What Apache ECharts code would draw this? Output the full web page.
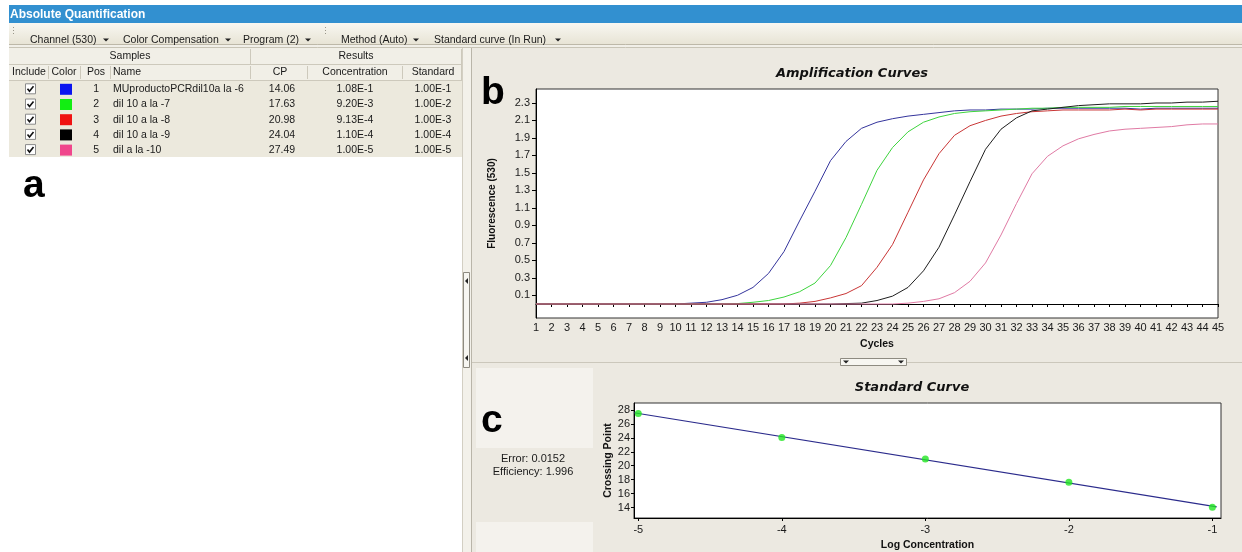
<!DOCTYPE html>
<html>
<head>
<meta charset="utf-8">
<title>Absolute Quantification</title>
<style>
  html, body { margin: 0; padding: 0; background: #ffffff; }
  #main { width: 1242px; height: 552px; }
</style>
</head>
<body>
<div id="main"></div>
<script src="https://cdn.jsdelivr.net/npm/echarts@6/dist/echarts.min.js"></script>
<script type="text/javascript">
    // amplification curves, fluorescence (530) per cycle
    var cycles = [1, 2, 3, 4, 5, 6, 7, 8, 9, 10, 11, 12, 13, 14, 15, 16, 17, 18, 19, 20,
        21, 22, 23, 24, 25, 26, 27, 28, 29, 30, 31, 32, 33, 34, 35, 36, 37, 38, 39, 40, 41, 42, 43, 44, 45];
    var fluorBlue = [0, 0, 0, 0, 0, 0, 0, 0, 0, 0, 0.01, 0.02, 0.05, 0.10, 0.19, 0.35, 0.60, 0.95, 1.29, 1.64,
        1.86, 2.01, 2.08, 2.12, 2.15, 2.17, 2.19, 2.21, 2.22, 2.22, 2.23, 2.23, 2.23, 2.24, 2.24,
        2.24, 2.24, 2.24, 2.24, 2.23, 2.24, 2.24, 2.24, 2.24, 2.24];
    var fluorGreen = [0, 0, 0, 0, 0, 0, 0, 0, 0, 0, 0, 0, 0, 0.005, 0.02, 0.04, 0.08, 0.14, 0.24, 0.44,
        0.76, 1.14, 1.53, 1.79, 1.97, 2.08, 2.14, 2.18, 2.20, 2.21, 2.22, 2.23, 2.24, 2.24, 2.25,
        2.25, 2.25, 2.25, 2.26, 2.26, 2.26, 2.26, 2.26, 2.26, 2.26];
    var fluorRed = [0, 0, 0, 0, 0, 0, 0, 0, 0, 0, 0, 0, 0, 0, 0, 0, 0, 0.01, 0.03, 0.07,
        0.12, 0.21, 0.42, 0.68, 1.05, 1.42, 1.72, 1.93, 2.04, 2.10, 2.15, 2.18, 2.20, 2.21, 2.22,
        2.22, 2.22, 2.22, 2.23, 2.22, 2.23, 2.23, 2.23, 2.23, 2.23];
    var fluorBlack = [0, 0, 0, 0, 0, 0, 0, 0, 0, 0, 0, 0, 0, 0, 0, 0, 0, 0, 0, 0,
        0.005, 0.01, 0.04, 0.09, 0.19, 0.38, 0.65, 1.02, 1.40, 1.77, 2.00, 2.13, 2.21, 2.23, 2.25,
        2.27, 2.28, 2.29, 2.29, 2.29, 2.30, 2.30, 2.31, 2.31, 2.32];
    var fluorPink = [0, 0, 0, 0, 0, 0, 0, 0, 0, 0, 0, 0, 0, 0, 0, 0, 0, 0, 0, 0,
        0, 0, 0, 0, 0.01, 0.03, 0.06, 0.13, 0.26, 0.47, 0.79, 1.15, 1.49, 1.69, 1.81,
        1.89, 1.94, 1.98, 2.00, 2.01, 2.02, 2.03, 2.05, 2.06, 2.06];
    var ampYTicks = [0.1, 0.3, 0.5, 0.7, 0.9, 1.1, 1.3, 1.5, 1.7, 1.9, 2.1, 2.3];

    // samples table
    var samplePos = [1, 2, 3, 4, 5];
    var sampleNames = ['MUproductoPCRdil10a la -6', 'dil 10 a la -7', 'dil 10 a la -8', 'dil 10 a la -9', 'dil a la -10'];
    var sampleCP = [14.06, 17.63, 20.98, 24.04, 27.49];
    var sampleConc = ['1.08E-1', '9.20E-3', '9.13E-4', '1.10E-4', '1.00E-5'];
    var sampleStd = ['1.00E-1', '1.00E-2', '1.00E-3', '1.00E-4', '1.00E-5'];
    var swatchColors = ['#0a14f0', '#12ee12', '#f01212', '#000000', '#f0468c'];
    var lineColors = ['#34349c', '#3ed43e', '#c93636', '#1e1e1e', '#e07aa4'];

    // standard curve
    var logConc = [-1, -2, -3, -4, -5];
    var stdXTicks = [-5, -4, -3, -2, -1];
    var stdYTicks = [14, 16, 18, 20, 22, 24, 26, 28];
    var fitLogConc = [-5.03, -0.97];
    var fitCP = [27.6, 14.1];
    var fitError = '0.0152';
    var fitEfficiency = '1.996';

    var UI = '"Liberation Sans", Arial, sans-serif';

    function rect(x, y, w, h, fill, stroke, z) {
        return { type: 'rect', silent: true, z: z || -5, shape: { x: x, y: y, width: w, height: h },
            style: { fill: fill, stroke: stroke || null, lineWidth: 1 } };
    }
    function line(x1, y1, x2, y2, stroke, dash) {
        return { type: 'line', silent: true, z: -4, shape: { x1: x1, y1: y1, x2: x2, y2: y2 },
            style: { stroke: stroke, lineWidth: 1, lineDash: dash || null } };
    }
    function text(x, y, t, font, fill, align, z) {
        return { type: 'text', silent: true, z: z || 5, x: x, y: y,
            style: { text: t, font: font, fill: fill || '#1a1a1a', textAlign: align || 'left',
                textVerticalAlign: 'middle', verticalAlign: 'middle' } };
    }
    function tri(cx, cy, down) {
        var pts = down ? [[cx - 3, cy - 1.5], [cx + 3, cy - 1.5], [cx, cy + 1.5]]
                       : [[cx + 2, cy - 3], [cx + 2, cy + 3], [cx - 1, cy]];
        return { type: 'polygon', silent: true, z: 6, shape: { points: pts }, style: { fill: '#222' } };
    }

    var g = [];
    // title bar and toolbar
    g.push(rect(9, 5, 1233, 18, '#3290d0'));
    g.push(text(10, 14.5, 'Absolute Quantification', 'bold 12px ' + UI, '#ffffff'));
    g.push({ type: 'rect', silent: true, z: -5, shape: { x: 9, y: 23, width: 1233, height: 22 },
        style: { fill: { type: 'linear', x: 0, y: 0, x2: 0, y2: 1,
            colorStops: [{ offset: 0, color: '#f8f7f1' }, { offset: 1, color: '#e7e3d4' }] } } });
    g.push(line(9, 44.5, 1242, 44.5, '#bdb8a8'));
    g.push(rect(9, 45, 1233, 3, '#f1efe8'));
    g.push(line(9, 47.5, 1242, 47.5, '#c8c4b6'));
    g.push(line(13.5, 27, 13.5, 36, '#9a968a', [1, 2]));
    g.push(line(325.5, 27, 325.5, 36, '#9a968a', [1, 2]));
    var tbItems = [['Channel (530)', 30, 106], ['Color Compensation', 123, 228], ['Program (2)', 243, 308],
        ['Method (Auto)', 341, 416], ['Standard curve (In Run)', 434, 558]];
    tbItems.forEach(function (it) {
        g.push(text(it[1], 40, it[0], '10.5px ' + UI));
        g.push(tri(it[2], 40, true));
    });

    // samples table
    g.push(rect(9, 48, 453, 109, '#ece9dd'));
    g.push(rect(9, 48, 453, 16, '#f1efe7'));
    g.push(rect(9, 65, 453, 15, '#f1efe7'));
    g.push(line(9, 64.5, 462, 64.5, '#cdc9bc'));
    g.push(line(9, 80.5, 462, 80.5, '#cdc9bc'));
    g.push(line(250.5, 49, 250.5, 64, '#cdc9bc'));
    g.push(line(461.5, 49, 461.5, 80, '#cdc9bc'));
    [48, 80, 110, 250, 307, 402].forEach(function (sx) {
        g.push(line(sx + 0.5, 66, sx + 0.5, 79, '#cdc9bc'));
    });
    g.push(text(130, 56.5, 'Samples', '10.5px ' + UI, '#1a1a1a', 'center'));
    g.push(text(356, 56.5, 'Results', '10.5px ' + UI, '#1a1a1a', 'center'));
    var colHeads = [['Include', 29, 'center'], ['Color', 64, 'center'], ['Pos', 96, 'center'], ['Name', 113, 'left'],
        ['CP', 280, 'center'], ['Concentration', 355, 'center'], ['Standard', 433, 'center']];
    colHeads.forEach(function (c) { g.push(text(c[1], 72.5, c[0], '10.5px ' + UI, '#1a1a1a', c[2])); });

    var rowY0 = 89.3, rowH = 15.2;
    samplePos.forEach(function (p, i) {
        var y = rowY0 + i * rowH;
        g.push(rect(25.5, y - 5.5, 10, 10, '#ffffff', '#8a8a8a', 4));
        g.push({ type: 'polyline', silent: true, z: 6, shape: { points: [[27.5, y - 0.5], [29.5, y + 2], [33.5, y - 3]] },
            style: { stroke: '#111', lineWidth: 1.6, fill: null } });
        g.push(rect(60, y - 5.5, 12, 11, swatchColors[i], null, 4));
        g.push(text(99, y, String(p), '10.5px ' + UI, '#1a1a1a', 'right'));
        g.push(text(113, y, sampleNames[i], '10.5px ' + UI));
        g.push(text(282, y, sampleCP[i].toFixed(2), '10.5px ' + UI, '#1a1a1a', 'center'));
        g.push(text(355, y, sampleConc[i], '10.5px ' + UI, '#1a1a1a', 'center'));
        g.push(text(433, y, sampleStd[i], '10.5px ' + UI, '#1a1a1a', 'center'));
    });

    // right panel, splitters
    g.push(rect(472, 48, 770, 504, '#ece9e1'));
    g.push(rect(462, 48, 10, 504, '#f3f1ea'));
    g.push(line(462.5, 48, 462.5, 552, '#d3cfc3'));
    g.push(line(471.5, 48, 471.5, 552, '#b9b5a9'));
    g.push(rect(463.5, 272.5, 6, 95, '#f7f6f1', '#8e8b81', 4));
    g.push(line(466.5, 286, 466.5, 354, '#555', [1, 2]));
    g.push(tri(466, 281, false));
    g.push(tri(466, 358, false));
    g.push(line(472, 362.5, 1242, 362.5, '#cbc7bb'));
    g.push(rect(840.5, 358.5, 66, 7, '#f7f6f1', '#8e8b81', 4));
    g.push(line(851, 362.5, 897, 362.5, '#555', [1, 2]));
    g.push(tri(846, 362, true));
    g.push(tri(901, 362, true));
    g.push(rect(476, 368, 117, 80, '#f4f2ed'));
    g.push(rect(476, 522, 117, 30, '#f4f2ed'));

    // chart titles and notes
    g.push(text(852, 74, 'Amplification Curves', 'italic bold 13px "DejaVu Sans"', '#111', 'center'));
    g.push(text(912, 388, 'Standard Curve', 'italic bold 13px "DejaVu Sans"', '#111', 'center'));
    g.push(text(533, 459, 'Error: ' + fitError, '11px ' + UI, '#1a1a1a', 'center'));
    g.push(text(533, 472, 'Efficiency: ' + fitEfficiency, '11px ' + UI, '#1a1a1a', 'center'));

    // panel letters
    g.push(text(23, 186, 'a', 'bold 39px ' + UI, '#000', 'left', 10));
    g.push(text(481, 93, 'b', 'bold 39px ' + UI, '#000', 'left', 10));
    g.push(text(481, 421, 'c', 'bold 39px ' + UI, '#000', 'left', 10));

    function pairs(xs, ys) { return xs.map(function (x, i) { return [x, ys[i]]; }); }

    var axisFont = { color: '#1a1a1a', fontSize: 11, fontFamily: UI };
    var nameFont = { color: '#111', fontWeight: 'bold', fontSize: 10.5, fontFamily: UI };

    var ampSeries = [fluorBlue, fluorGreen, fluorRed, fluorBlack, fluorPink].map(function (vals, i) {
        return {
            name: sampleNames[i], type: 'line', xAxisIndex: 0, yAxisIndex: 0,
            data: pairs(cycles, vals), showSymbol: false, symbol: 'none',
            lineStyle: { color: lineColors[i], width: 1 }, z: 2 + i
        };
    });

    var myChart = echarts.init(document.getElementById('main'), null, { renderer: 'canvas' });

    var option = {
        animation: false,
        backgroundColor: '#ffffff',
        graphic: { elements: g },
        grid: [
            { left: 536, top: 89, width: 682, height: 229, show: true, backgroundColor: '#ffffff',
              borderColor: '#333333', borderWidth: 1 },
            { left: 634, top: 403, width: 587, height: 116, show: true, backgroundColor: '#ffffff',
              borderColor: '#333333', borderWidth: 1 }
        ],
        xAxis: [
            { type: 'value', gridIndex: 0, min: 1, max: 45, interval: 1,
              axisLine: { lineStyle: { color: '#000', width: 1 } },
              axisTick: { show: true, length: 3, lineStyle: { color: '#000' } },
              axisLabel: Object.assign({ margin: 4, showMinLabel: true, showMaxLabel: true }, axisFont),
              splitLine: { show: false },
              name: 'Cycles', nameLocation: 'middle', nameGap: 21, nameTextStyle: nameFont },
            { type: 'value', gridIndex: 1, min: -5.03, max: -0.94,
              axisLine: { lineStyle: { color: '#000', width: 1 } },
              axisTick: { show: true, length: 3, customValues: stdXTicks, lineStyle: { color: '#000' } },
              axisLabel: Object.assign({ margin: 6, customValues: stdXTicks }, axisFont),
              splitLine: { show: false },
              name: 'Log Concentration', nameLocation: 'middle', nameGap: 22, nameTextStyle: nameFont }
        ],
        yAxis: [
            { type: 'value', gridIndex: 0, min: -0.16, max: 2.46,
              axisLine: { show: true, lineStyle: { color: '#000', width: 1 } },
              axisTick: { show: true, length: 4, customValues: ampYTicks, lineStyle: { color: '#000' } },
              axisLabel: Object.assign({ margin: 6, customValues: ampYTicks,
                  formatter: function (v) { return v.toFixed(1); } }, axisFont),
              splitLine: { show: false },
              name: 'Fluorescence (530)', nameLocation: 'middle', nameGap: 39,
              nameTextStyle: { color: '#111', fontWeight: 'bold', fontSize: 10, fontFamily: UI } },
            { type: 'value', gridIndex: 1, min: 12.5, max: 29,
              axisLine: { show: true, lineStyle: { color: '#000', width: 1 } },
              axisTick: { show: true, length: 3, customValues: stdYTicks, lineStyle: { color: '#000' } },
              axisLabel: Object.assign({ margin: 4, customValues: stdYTicks }, axisFont),
              splitLine: { show: false },
              name: 'Crossing Point', nameLocation: 'middle', nameGap: 18, nameTextStyle: nameFont }
        ],
        series: ampSeries.concat([
            { name: 'fit', type: 'line', xAxisIndex: 1, yAxisIndex: 1, data: pairs(fitLogConc, fitCP),
              symbol: 'none', lineStyle: { color: '#2b2b8c', width: 1.2 }, z: 3 },
            { name: 'standards', type: 'scatter', xAxisIndex: 1, yAxisIndex: 1, data: pairs(logConc, sampleCP),
              symbolSize: 7, itemStyle: { color: '#22e622' }, z: 4 }
        ])
    };

    myChart.setOption(option);
</script>
</body>
</html>
